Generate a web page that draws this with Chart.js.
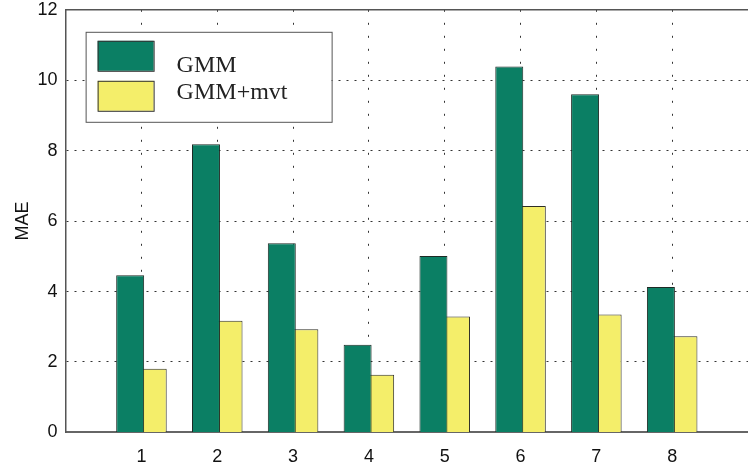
<!DOCTYPE html>
<html>
<head>
<meta charset="utf-8">
<script src="https://cdn.jsdelivr.net/npm/chart.js@4/dist/chart.umd.min.js"></script>
<style>
  html, body { margin: 0; padding: 0; background: #fff; overflow: hidden; }
  #wrap { width: 748px; height: 476px; overflow: hidden; position: relative; }
  #maeChart { position: absolute; left: 0; top: -9px; }
</style>
</head>
<body>
<div id="wrap"><canvas id="maeChart" width="762" height="492"></canvas></div>
<script>
// valeurs
const categories = [1, 2, 3, 4, 5, 6, 7, 8]
const gmm = [4.46, 8.18, 5.37, 2.49, 5.01, 10.39, 9.6, 4.13]
const gmmMvt = [1.81, 3.17, 2.93, 1.64, 3.29, 6.43, 3.35, 2.73]
const seriesNames = ['GMM', 'GMM+mvt']
const yTicks = [0, 2, 4, 6, 8, 10, 12]

const green = '#0b7f64'
const yellow = '#f4ee6a'

// légende encadrée dans la zone du graphique (style MATLAB)
const boxLegend = {
  id: 'boxLegend',
  afterDatasetsDraw(chart) {
    const { ctx, chartArea } = chart
    const x0 = chartArea.left + 20
    const y0 = chartArea.top + 22
    ctx.save()
    ctx.fillStyle = '#fff'
    ctx.fillRect(x0, y0, 246, 90)
    ctx.strokeStyle = '#555'
    ctx.lineWidth = 1
    ctx.strokeRect(x0 + 0.5, y0 + 0.5, 246, 90)
    chart.data.datasets.forEach((ds, i) => {
      const sy = y0 + 9 + i * 40
      ctx.fillStyle = ds.backgroundColor
      ctx.fillRect(x0 + 12, sy, 56, 30)
      ctx.strokeStyle = '#333'
      ctx.strokeRect(x0 + 12.5, sy + 0.5, 56, 30)
      ctx.fillStyle = '#222'
      ctx.font = '24px "Liberation Serif", "Times New Roman", serif'
      ctx.textBaseline = 'alphabetic'
      ctx.fillText(ds.label, x0 + 91, i === 0 ? y0 + 40 : y0 + 67)
    })
    ctx.restore()
  },
}

new Chart(document.getElementById('maeChart'), {
  type: 'bar',
  data: {
    datasets: [
      {
        label: seriesNames[0],
        data: categories.map((c, i) => ({ x: c, y: gmm[i] })),
        backgroundColor: green,
        borderColor: '#1e2a25',
        borderWidth: 1,
      },
      {
        label: seriesNames[1],
        data: categories.map((c, i) => ({ x: c, y: gmmMvt[i] })),
        backgroundColor: yellow,
        borderColor: '#2e2e26',
        borderWidth: 1,
      },
    ],
  },
  options: {
    responsive: false,
    animation: false,
    categoryPercentage: 0.595,
    barPercentage: 1.24,
    layout: { padding: { left: 0, right: 0, top: -5, bottom: 1 } },
    plugins: { legend: { display: false }, tooltip: { enabled: false } },
    scales: {
      x: {
        type: 'linear',
        min: 0,
        max: 9,
        offset: false,
        afterBuildTicks: (axis) => {
          axis.ticks = [0, ...categories, 9].map((v) => ({ value: v }))
        },
        ticks: {
          callback: (v) => (categories.includes(v) ? String(v) : ''),
          color: '#111',
          font: { family: '"Liberation Sans", Arial, sans-serif', size: 18 },
          padding: 14,
          maxRotation: 0,
        },
        grid: {
          color: (c) => (c.tick && (c.tick.value === 0 || c.tick.value === 9) ? 'rgba(0,0,0,0)' : '#333'),
          lineWidth: 1,
          drawTicks: false,
          offset: false,
        },
        border: { display: true, color: '#666', width: 2, dash: [2, 11] },
      },
      xTop: {
        type: 'linear',
        position: 'top',
        min: 0,
        max: 9,
        ticks: { display: false },
        grid: { display: false, drawTicks: false },
        border: { display: true, color: '#555', width: 1.5 },
      },
      y: {
        min: 0,
        max: 12,
        afterBuildTicks: (axis) => {
          axis.ticks = yTicks.map((v) => ({ value: v }))
        },
        ticks: {
          color: '#111',
          font: { family: '"Liberation Sans", Arial, sans-serif', size: 18 },
          padding: 8,
        },
        grid: {
          color: (c) => (c.tick && (c.tick.value === 0 || c.tick.value === 12) ? 'rgba(0,0,0,0)' : '#333'),
          lineWidth: 1,
          drawTicks: false,
        },
        border: { display: true, color: '#555', width: 1.5, dash: [2, 6] },
        title: {
          display: true,
          text: 'MAE',
          color: '#111',
          font: { family: '"Liberation Sans", Arial, sans-serif', size: 18 },
          padding: { top: 12, bottom: -4 },
        },
      },
    },
  },
  plugins: [boxLegend],
})
</script>
</body>
</html>
